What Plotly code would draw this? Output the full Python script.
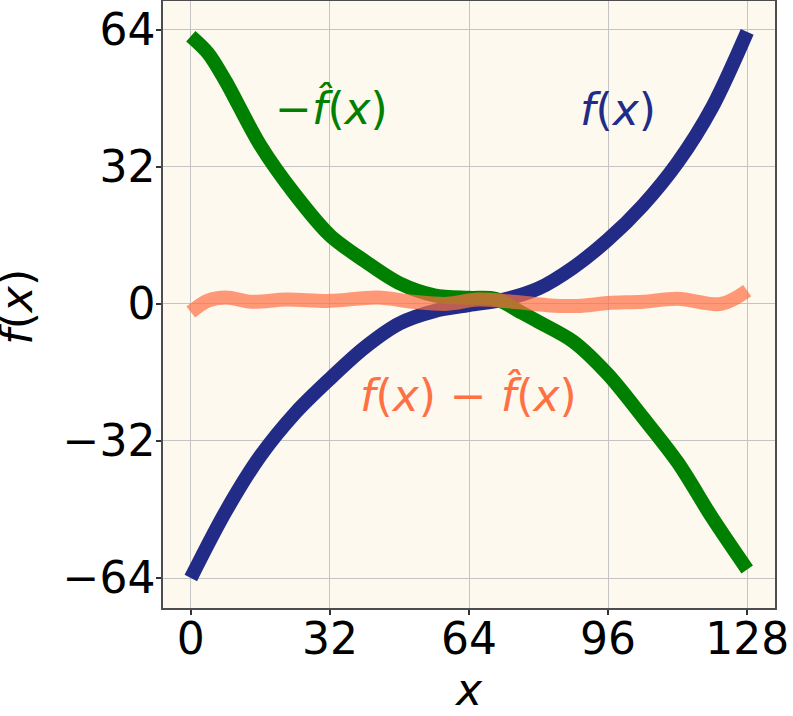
import plotly.graph_objects as go

# ---- data ----
x_f = [0, 8, 16, 24, 32, 40, 48, 56, 64, 72, 80, 88, 96, 104, 112, 120, 128]
f_vals = [-64, -48.5, -35.5, -25.5, -17.5, -10.2, -4.6, -1.7, -0.3, 1.0, 3.6, 8.5, 15, 23, 33, 46, 63.5]

x_g = [0, 4, 8, 16, 24, 32, 40, 48, 56, 64, 70, 76, 80, 88, 96, 104, 112, 120, 128]
neg_fhat_vals = [62.5, 58.5, 52, 37, 25.5, 16, 10, 4.8, 2.0, 1.4, 1.2, -2.0, -4.2, -8.8, -16.5, -26.5, -37, -50, -62]

x_e = [0, 4, 8, 14, 22, 32, 43, 51, 59, 66, 74, 82, 89, 96, 104, 112, 122, 128]
err_vals = [-1.9, 0.8, 1.5, 0.5, 1.0, 0.7, 1.5, 0.5, 0.0, 1.0, 0.5, -0.3, -0.5, 0.2, 0.5, 1.2, 0.0, 3.1]

x_ticks = [0, 32, 64, 96, 128]
x_tick_text = ["0", "32", "64", "96", "128"]
y_ticks = [-64, -32, 0, 32, 64]
y_tick_text = ["\u221264", "\u221232", "0", "32", "64"]

BLUE = "#222c86"
GREEN = "#008000"
ORANGE = "#ff7043"
FONT = "DejaVu Sans"

fig = go.Figure()
fig.add_trace(go.Scatter(x=x_f, y=f_vals, mode="lines",
                         line=dict(color=BLUE, width=14, shape="spline", smoothing=0.9)))
fig.add_trace(go.Scatter(x=x_g, y=neg_fhat_vals, mode="lines",
                         line=dict(color=GREEN, width=14, shape="spline", smoothing=0.9)))
fig.add_trace(go.Scatter(x=x_e, y=err_vals, mode="lines", opacity=0.7,
                         line=dict(color=ORANGE, width=14, shape="spline", smoothing=1.0)))

annots = [
    dict(x=32.3, y=45.7, text="\u2212<i>f\u0302</i>(<i>x</i>)", color=GREEN),
    dict(x=98.3, y=45.4, text="<i>f</i>(<i>x</i>)", color=BLUE),
    dict(x=63.8, y=-21.3, text="<i>f</i>(<i>x</i>) \u2212 <i>f\u0302</i>(<i>x</i>)", color=ORANGE),
]
for a in annots:
    fig.add_annotation(x=a["x"], y=a["y"], text=a["text"], showarrow=False,
                       xanchor="center", yanchor="middle",
                       font=dict(family=FONT, size=44, color=a["color"]))

# y-axis title placed as a rotated annotation in the left margin
fig.add_annotation(xref="paper", yref="paper", x=-0.2394, y=0.497,
                   text="<i>f</i>(<i>x</i>)", textangle=-90, showarrow=False,
                   xanchor="center", yanchor="middle",
                   font=dict(family=FONT, size=44, color="black"))

axis_common = dict(
    showgrid=True, gridcolor="#c4c4c4", gridwidth=1,
    showline=True, linecolor="#4d4d4d", linewidth=1.5, mirror=True,
    ticks="outside", ticklen=5, tickwidth=1.5, tickcolor="#333333",
    tickfont=dict(family=FONT, size=44, color="black"),
    zeroline=False, automargin=False,
)

fig.update_layout(
    width=793, height=716,
    margin=dict(l=163, r=18, t=1, b=108),
    paper_bgcolor="white",
    plot_bgcolor="#fdf9ef",
    showlegend=False,
    xaxis=dict(range=[-6.4, 134.4], tickvals=x_ticks, ticktext=x_tick_text,
               ticklabelstandoff=-14,
               title=dict(text="<i>x</i>", font=dict(family=FONT, size=44, color="black"), standoff=0),
               **axis_common),
    yaxis=dict(range=[-71.0, 70.7], tickvals=y_ticks, ticktext=y_tick_text,
               ticklabelstandoff=-8,
               **axis_common),
)

fig.write_html("out.html", config={"displayModeBar": False},
               post_script="document.body.style.margin='0';")
